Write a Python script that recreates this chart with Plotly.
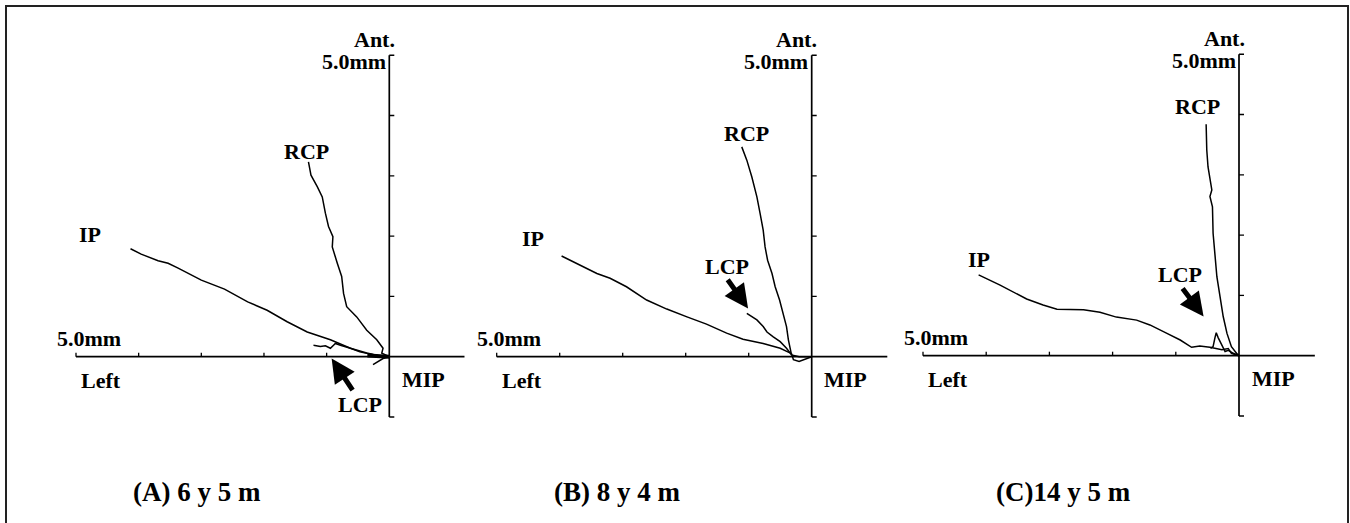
import plotly.graph_objects as go

W, H = 1350, 523

# ---------------- data (mm) ----------------
panel_titles = ["(A) 6 y 5 m", "(B) 8 y 4 m", "(C)14 y 5 m"]
x_ticks = [-5, -4, -3, -2, -1]
y_ticks = [1, 2, 3, 4]

ip_a_x = [-4.13, -3.96, -3.69, -3.53, -3.37, -3.0, -2.63, -2.26, -1.95, -1.63, -1.31, -0.94, -0.62, -0.36, -0.15, 0]
ip_a_y = [1.79, 1.70, 1.59, 1.55, 1.47, 1.27, 1.12, 0.91, 0.77, 0.58, 0.41, 0.28, 0.14, 0.06, 0.01, 0]
rcp_a_x = [-1.29, -1.25, -1.15, -1.07, -1.02, -0.97, -0.90, -0.91, -0.83, -0.76, -0.73, -0.68, -0.52, -0.36, -0.20, -0.10, -0.12, 0]
rcp_a_y = [3.23, 3.01, 2.82, 2.65, 2.38, 2.16, 1.99, 1.82, 1.55, 1.33, 1.05, 0.83, 0.66, 0.44, 0.28, 0.14, 0.06, 0]
lcp_a_x = [-1.21, -1.10, -1.02, -0.94, -0.89, -0.86, -0.78, -0.62, -0.47, -0.25, -0.10, 0]
lcp_a_y = [0.19, 0.17, 0.18, 0.14, 0.19, 0.22, 0.19, 0.14, 0.08, 0.03, 0.0, 0]
lcp_a_hook_x = [-0.26, -0.10, 0]
lcp_a_hook_y = [-0.13, -0.03, 0]
lcp_a_cluster_x = [-0.35, -0.15, 0]
lcp_a_cluster_y = [0.02, 0.0, 0]

ip_b_x = [-3.97, -3.68, -3.41, -3.2, -2.94, -2.62, -2.30, -1.98, -1.67, -1.35, -1.09, -0.77, -0.50, -0.32, -0.29, -0.20, -0.10, 0]
ip_b_y = [1.67, 1.52, 1.38, 1.30, 1.16, 0.94, 0.79, 0.66, 0.54, 0.39, 0.29, 0.22, 0.14, 0.05, -0.05, -0.08, -0.04, 0]
rcp_b_x = [-1.11, -1.03, -0.95, -0.87, -0.82, -0.77, -0.74, -0.70, -0.63, -0.58, -0.51, -0.45, -0.40, -0.37, -0.34, -0.32, -0.20, 0]
rcp_b_y = [3.48, 3.26, 2.98, 2.65, 2.38, 2.10, 1.82, 1.60, 1.38, 1.16, 0.94, 0.72, 0.50, 0.28, 0.11, 0.03, 0.0, 0]
lcp_b_x = [-1.03, -0.87, -0.77, -0.71, -0.61, -0.50, -0.40, -0.32]
lcp_b_y = [0.72, 0.61, 0.50, 0.41, 0.33, 0.25, 0.14, 0.03]

ip_c_x = [-4.12, -3.78, -3.36, -3.10, -2.88, -2.46, -2.20, -1.94, -1.62, -1.41, -1.14, -0.93, -0.75, -0.62, -0.46, -0.38, -0.27, -0.17, -0.12, 0]
ip_c_y = [1.34, 1.17, 0.94, 0.84, 0.77, 0.76, 0.72, 0.64, 0.59, 0.51, 0.37, 0.26, 0.14, 0.16, 0.14, 0.12, 0.10, 0.12, 0.04, 0]
rcp_c_x = [-0.52, -0.51, -0.49, -0.45, -0.43, -0.46, -0.42, -0.41, -0.38, -0.35, -0.30, -0.25, -0.19, -0.12, -0.03, 0]
rcp_c_y = [3.84, 3.41, 3.13, 2.83, 2.75, 2.64, 2.47, 2.03, 1.59, 1.31, 0.98, 0.65, 0.37, 0.15, 0.03, 0]
lcp_c_x = [-0.45, -0.41, -0.38, -0.36, -0.33, -0.27, -0.22, -0.17, -0.09, 0]
lcp_c_y = [0.12, 0.15, 0.30, 0.38, 0.30, 0.18, 0.07, 0.09, 0.04, 0]

# label positions (mm) per panel
rcp_label = [(-1.32, 3.40), (-1.03, 3.70), (-0.65, 4.13)]
ip_label = [(-4.78, 2.02), (-4.42, 1.96), (-4.12, 1.60)]
lcp_label = [(-0.47, -0.80), (-1.35, 1.49), (-0.93, 1.34)]
lcp_arrow_tip = [(-0.92, -0.03), (-1.01, 0.80), (-0.56, 0.65)]
lcp_arrow_tail = [(-0.57, -0.58), (-1.35, 1.30), (-0.91, 1.14)]

# ---------------- layout geometry (pixels) ----------------
origins = [(389.3, 356.7, 62.66, 60.3), (811.7, 356.7, 63.0, 60.3), (1239.0, 355.7, 63.2, 60.3)]
XR = [-5.4, 1.2]
YR = [-1.4, 5.6]

FONT = "Liberation Serif, Times New Roman, serif"
fig = go.Figure()
layout = dict(width=W, height=H, margin=dict(l=0, r=0, t=0, b=0),
              paper_bgcolor="white", plot_bgcolor="rgba(0,0,0,0)", showlegend=False)
shapes = []
annotations = []

panels = [
    dict(ip=(ip_a_x, ip_a_y), rcp=(rcp_a_x, rcp_a_y), lcp=[(lcp_a_x, lcp_a_y), (lcp_a_hook_x, lcp_a_hook_y)],
         thick=(lcp_a_cluster_x, lcp_a_cluster_y)),
    dict(ip=(ip_b_x, ip_b_y), rcp=(rcp_b_x, rcp_b_y), lcp=[(lcp_b_x, lcp_b_y)], thick=None),
    dict(ip=(ip_c_x, ip_c_y), rcp=(rcp_c_x, rcp_c_y), lcp=[(lcp_c_x, lcp_c_y)], thick=None),
]

def lbl(text, x, y, xr, yr, size=22, xanchor="center", yanchor="middle"):
    annotations.append(dict(text=text, x=x, y=y, xref=xr, yref=yr, showarrow=False,
                            xanchor=xanchor, yanchor=yanchor,
                            font=dict(family=FONT, size=size, color="black", weight="bold")))

for i, (ox, oy, sx, sy) in enumerate(origins):
    n = "" if i == 0 else str(i + 1)
    xa, ya = "xaxis" + n, "yaxis" + n
    xr, yr = "x" + n, "y" + n
    layout[xa] = dict(range=XR, domain=[(ox + XR[0] * sx) / W, (ox + XR[1] * sx) / W],
                      visible=False, anchor=yr, fixedrange=True)
    layout[ya] = dict(range=YR, domain=[1 - (oy - YR[0] * sy) / H, 1 - (oy - YR[1] * sy) / H],
                      visible=False, anchor=xr, fixedrange=True)
    p = panels[i]
    lw = 1.5
    for (xx, yy) in [p["ip"], p["rcp"]] + p["lcp"]:
        fig.add_trace(go.Scatter(x=xx, y=yy, mode="lines", line=dict(color="black", width=lw),
                                 xaxis=xr, yaxis=yr, hoverinfo="skip"))
    if p["thick"]:
        fig.add_trace(go.Scatter(x=p["thick"][0], y=p["thick"][1], mode="lines",
                                 line=dict(color="black", width=4), xaxis=xr, yaxis=yr, hoverinfo="skip"))
    # axes
    ak = dict(type="line", xref=xr, yref=yr, line=dict(color="black", width=1.7))
    shapes.append(dict(ak, x0=-5, x1=1.3, y0=0, y1=0))
    shapes.append(dict(ak, x0=0, x1=0, y0=-1, y1=5))
    tx = 4 / sy
    ty = 5 / sx
    for t in x_ticks:
        shapes.append(dict(ak, x0=t, x1=t, y0=0, y1=tx, line=dict(color="black", width=1.3)))
    for t in y_ticks:
        shapes.append(dict(ak, x0=0, x1=ty, y0=t, y1=t, line=dict(color="black", width=1.3)))
    for t in [5, -1]:
        shapes.append(dict(ak, x0=0, x1=ty, y0=t, y1=t, line=dict(color="black", width=1.5)))
    # labels
    lbl("Ant.", 0.12, 5.26, xr, yr, xanchor="right")
    lbl("5.0mm", -0.02, 4.89, xr, yr, xanchor="right")
    lbl("5.0mm", -4.80, 0.31, xr, yr)
    lbl("Left", -4.60, -0.39, xr, yr)
    lbl("MIP", 0.54, -0.37, xr, yr)
    lbl("RCP", rcp_label[i][0], rcp_label[i][1], xr, yr)
    lbl("IP", ip_label[i][0], ip_label[i][1], xr, yr)
    lbl("LCP", lcp_label[i][0], lcp_label[i][1], xr, yr)
    annotations.append(dict(text="", x=lcp_arrow_tip[i][0], y=lcp_arrow_tip[i][1],
                            ax=lcp_arrow_tail[i][0], ay=lcp_arrow_tail[i][1],
                            xref=xr, yref=yr, axref=xr, ayref=yr, showarrow=True,
                            arrowhead=2, arrowsize=0.95, arrowwidth=5, arrowcolor="black"))

# panel titles
title_px = [197, 617, 1063]
for t, px in zip(panel_titles, title_px):
    annotations.append(dict(text=t, x=px / W, y=1 - 492 / H, xref="paper", yref="paper",
                            showarrow=False, xanchor="center", yanchor="middle",
                            font=dict(family=FONT, size=27, color="black", weight="bold")))

# outer frame
shapes.append(dict(type="rect", xref="paper", yref="paper", x0=6 / W, x1=1348 / W,
                   y0=-0.05, y1=1 - 6 / H, line=dict(color="#222", width=2)))

layout["shapes"] = shapes
layout["annotations"] = annotations
fig.update_layout(**layout)
fig.write_html("out.html", config={"displayModeBar": False},
               post_script="document.body.style.margin='0';document.body.style.overflow='hidden';")
